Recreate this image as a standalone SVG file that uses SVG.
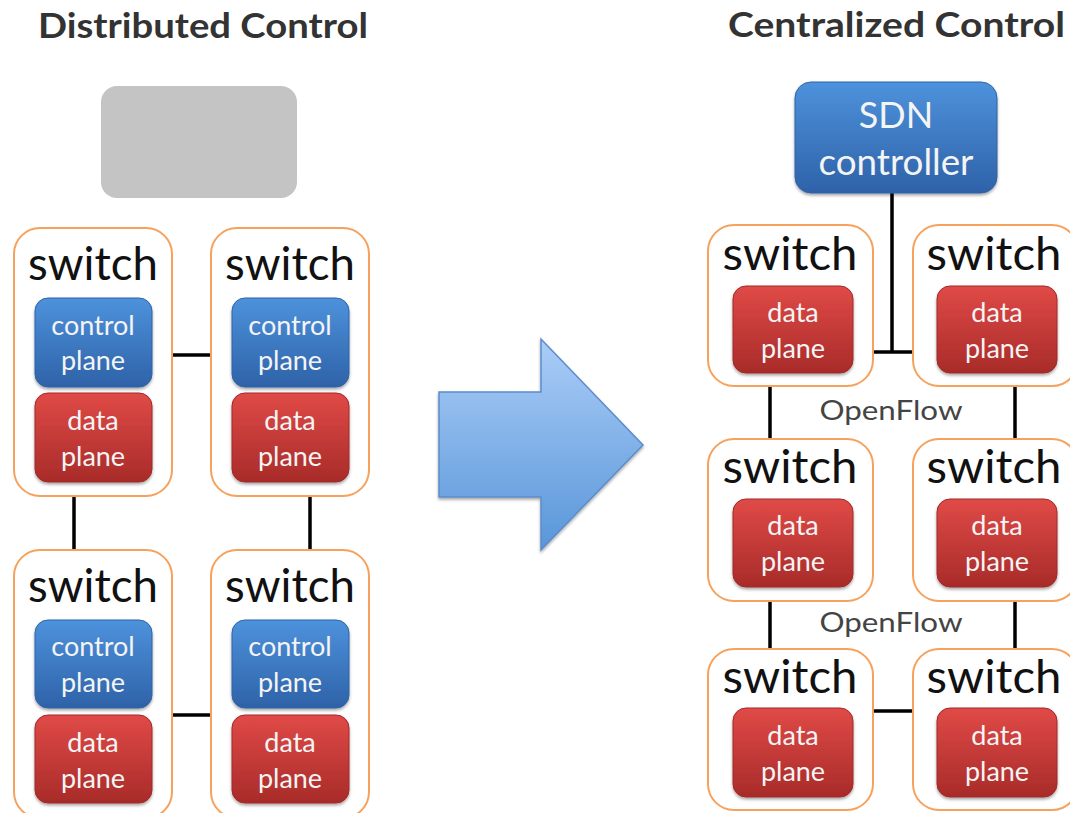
<svg xmlns="http://www.w3.org/2000/svg" width="1070" height="813" viewBox="0 0 1070 813">
  <defs>
    <linearGradient id="gBlue" x1="0" y1="0" x2="0" y2="1">
      <stop offset="0" stop-color="#4d92dc"/>
      <stop offset="1" stop-color="#2e62a8"/>
    </linearGradient>
    <linearGradient id="gRed" x1="0" y1="0" x2="0" y2="1">
      <stop offset="0" stop-color="#e04a47"/>
      <stop offset="1" stop-color="#a82b29"/>
    </linearGradient>
    <linearGradient id="gArrow" x1="0" y1="0" x2="0" y2="1">
      <stop offset="0" stop-color="#abcdf7"/>
      <stop offset="1" stop-color="#5896d9"/>
    </linearGradient>
    <filter id="shadow" x="-10%" y="-10%" width="130%" height="130%">
      <feDropShadow dx="0" dy="2" stdDeviation="1.5" flood-color="#000" flood-opacity="0.35"/>
    </filter>
    <style>
      .title { font-family: Lato, "Open Sans", "Liberation Sans", sans-serif; font-weight: bold; font-size: 34px; fill: #333; }
      .sw { fill: #fff; stroke: #f6a15c; stroke-width: 2; }
      .swlabel { font-family: Lato, "Open Sans", "Liberation Sans", sans-serif; font-size: 46px; fill: #111; text-anchor: middle; }
      .cp { fill: url(#gBlue); stroke: #2f63a6; stroke-width: 1; filter: url(#shadow); }
      .dp { fill: url(#gRed); stroke: #a02a28; stroke-width: 1; filter: url(#shadow); }
      .in { font-family: Lato, "Open Sans", "Liberation Sans", sans-serif; font-size: 27px; fill: #f4f4f4; text-anchor: middle; }
      .big { font-family: Lato, "Open Sans", "Liberation Sans", sans-serif; font-size: 36px; fill: #f4f4f4; text-anchor: middle; }
      .link { stroke: #000; stroke-width: 3.5; fill: none; }
      .of { font-family: Lato, "Open Sans", "Liberation Sans", sans-serif; font-size: 27px; fill: #444; text-anchor: middle; }
    </style>
  </defs>

  <rect width="1070" height="813" fill="#fff"/>

  <!-- headings -->
  <text class="title" x="38" y="38" textLength="330" lengthAdjust="spacingAndGlyphs">Distributed Control</text>
  <text class="title" x="728" y="37" textLength="337" lengthAdjust="spacingAndGlyphs">Centralized Control</text>

  <!-- connectors -->
  <g id="connectors">
    <line class="link" x1="172" y1="355" x2="212" y2="355"/>
    <line class="link" x1="74" y1="496" x2="74" y2="550"/>
    <line class="link" x1="310" y1="496" x2="310" y2="550"/>
    <line class="link" x1="172" y1="715" x2="212" y2="715"/>

    <line class="link" x1="892" y1="193" x2="892" y2="352"/>
    <line class="link" x1="873" y1="352" x2="913" y2="352"/>
    <line class="link" x1="770" y1="386" x2="770" y2="439"/>
    <line class="link" x1="1015" y1="386" x2="1015" y2="439"/>
    <line class="link" x1="770" y1="601" x2="770" y2="649"/>
    <line class="link" x1="1015" y1="601" x2="1015" y2="649"/>
    <line class="link" x1="873" y1="711" x2="913" y2="711"/>
    <text class="of" x="891" y="420" textLength="143" lengthAdjust="spacingAndGlyphs">OpenFlow</text>
    <text class="of" x="891" y="632" textLength="143" lengthAdjust="spacingAndGlyphs">OpenFlow</text>
  </g>

  <!-- idle controller slot (distributed side) -->
  <g id="empty-controller">
    <rect x="101" y="86" width="196" height="112" rx="16" fill="#c4c4c4"/>
  </g>

  <!-- distributed switches -->
  <g id="dsw1">
    <rect class="sw" x="14" y="228" width="158" height="268" rx="26"/>
    <text class="swlabel" x="93" y="280" textLength="130" lengthAdjust="spacingAndGlyphs">switch</text>
    <rect class="cp" x="35" y="298" width="117" height="89" rx="13"/>
    <text class="in" x="93" y="335">control</text>
    <text class="in" x="93" y="370">plane</text>
    <rect class="dp" x="35" y="393" width="117" height="89" rx="13"/>
    <text class="in" x="93" y="430">data</text>
    <text class="in" x="93" y="466">plane</text>
  </g>
  <g id="dsw2">
    <rect class="sw" x="211" y="228" width="158" height="268" rx="26"/>
    <text class="swlabel" x="290" y="280" textLength="130" lengthAdjust="spacingAndGlyphs">switch</text>
    <rect class="cp" x="232" y="298" width="117" height="89" rx="13"/>
    <text class="in" x="290" y="335">control</text>
    <text class="in" x="290" y="370">plane</text>
    <rect class="dp" x="232" y="393" width="117" height="89" rx="13"/>
    <text class="in" x="290" y="430">data</text>
    <text class="in" x="290" y="466">plane</text>
  </g>
  <g id="dsw3">
    <rect class="sw" x="14" y="550" width="158" height="268" rx="26"/>
    <text class="swlabel" x="93" y="602" textLength="130" lengthAdjust="spacingAndGlyphs">switch</text>
    <rect class="cp" x="35" y="620" width="117" height="88" rx="13"/>
    <text class="in" x="93" y="656">control</text>
    <text class="in" x="93" y="692">plane</text>
    <rect class="dp" x="35" y="715" width="117" height="88" rx="13"/>
    <text class="in" x="93" y="752">data</text>
    <text class="in" x="93" y="788">plane</text>
  </g>
  <g id="dsw4">
    <rect class="sw" x="211" y="550" width="158" height="268" rx="26"/>
    <text class="swlabel" x="290" y="602" textLength="130" lengthAdjust="spacingAndGlyphs">switch</text>
    <rect class="cp" x="232" y="620" width="117" height="88" rx="13"/>
    <text class="in" x="290" y="656">control</text>
    <text class="in" x="290" y="692">plane</text>
    <rect class="dp" x="232" y="715" width="117" height="88" rx="13"/>
    <text class="in" x="290" y="752">data</text>
    <text class="in" x="290" y="788">plane</text>
  </g>

  <!-- transition arrow -->
  <g id="arrow">
    <polygon points="439,392 541,392 541,339 643,445 541,550 541,497 439,497" fill="url(#gArrow)" stroke="#5b8ccb" stroke-width="1.5" filter="url(#shadow)"/>
  </g>

  <!-- centralized side -->
  <g id="sdn-controller">
    <rect class="cp" x="795" y="82" width="202" height="111" rx="16"/>
    <text class="big" x="896" y="128">SDN</text>
    <text class="big" x="896" y="175" textLength="155" lengthAdjust="spacingAndGlyphs">controller</text>
  </g>

  <g id="csw1">
    <rect class="sw" x="708" y="225" width="165" height="161" rx="26"/>
    <text class="swlabel" x="790" y="270" textLength="135" lengthAdjust="spacingAndGlyphs">switch</text>
    <rect class="dp" x="733" y="286" width="120" height="87" rx="13"/>
    <text class="in" x="793" y="322">data</text>
    <text class="in" x="793" y="358">plane</text>
  </g>
  <g id="csw2">
    <rect class="sw" x="913" y="225" width="165" height="161" rx="26"/>
    <text class="swlabel" x="994" y="270" textLength="135" lengthAdjust="spacingAndGlyphs">switch</text>
    <rect class="dp" x="937" y="286" width="120" height="87" rx="13"/>
    <text class="in" x="997" y="322">data</text>
    <text class="in" x="997" y="358">plane</text>
  </g>
  <g id="csw3">
    <rect class="sw" x="708" y="439" width="165" height="162" rx="26"/>
    <text class="swlabel" x="790" y="483" textLength="135" lengthAdjust="spacingAndGlyphs">switch</text>
    <rect class="dp" x="733" y="499" width="120" height="88" rx="13"/>
    <text class="in" x="793" y="535">data</text>
    <text class="in" x="793" y="571">plane</text>
  </g>
  <g id="csw4">
    <rect class="sw" x="913" y="439" width="165" height="162" rx="26"/>
    <text class="swlabel" x="994" y="483" textLength="135" lengthAdjust="spacingAndGlyphs">switch</text>
    <rect class="dp" x="937" y="499" width="120" height="88" rx="13"/>
    <text class="in" x="997" y="535">data</text>
    <text class="in" x="997" y="571">plane</text>
  </g>
  <g id="csw5">
    <rect class="sw" x="708" y="649" width="165" height="161" rx="26"/>
    <text class="swlabel" x="790" y="693" textLength="135" lengthAdjust="spacingAndGlyphs">switch</text>
    <rect class="dp" x="733" y="708" width="120" height="89" rx="13"/>
    <text class="in" x="793" y="745">data</text>
    <text class="in" x="793" y="781">plane</text>
  </g>
  <g id="csw6">
    <rect class="sw" x="913" y="649" width="165" height="161" rx="26"/>
    <text class="swlabel" x="994" y="693" textLength="135" lengthAdjust="spacingAndGlyphs">switch</text>
    <rect class="dp" x="937" y="708" width="120" height="89" rx="13"/>
    <text class="in" x="997" y="745">data</text>
    <text class="in" x="997" y="781">plane</text>
  </g>
</svg>
